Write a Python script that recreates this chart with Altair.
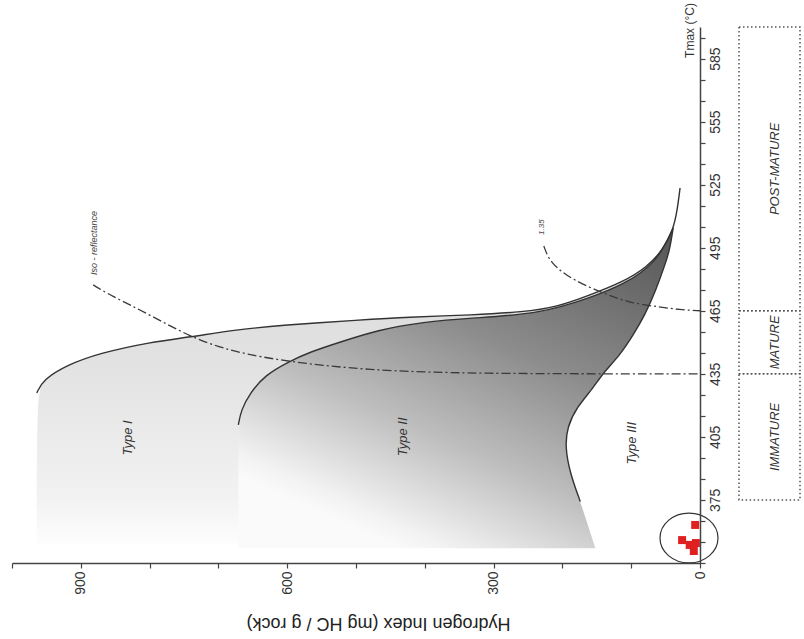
import altair as alt
import pandas as pd

# ---- data: Hydrogen Index (mg HC/g rock) and Tmax (°C) ----
type1_hi = [964, 964, 955, 920, 872, 799, 741, 679, 606, 494, 426, 330, 257, 208, 160, 112, 77, 54, 39, 33, 29]
type1_t = [354, 425.9, 432.1, 439.2, 444.9, 450.1, 452.5, 455.8, 458.2, 460.6, 462.0, 463.0, 464.4, 466.8,
           472.5, 478.7, 485.8, 493.9, 503.4, 512.9, 523.4]

type2_hi = [671, 671, 667, 654, 632, 599, 567, 523, 469, 403, 330, 233, 160, 112, 63, 39]
type2_t = [352, 410.7, 417.8, 425.9, 434.4, 440.6, 445.4, 450.1, 455.8, 459.7, 461.6, 463.5, 471.1, 477.3,
           487.7, 504.4]

type3_hi = [145, 174, 189, 196, 193, 179, 155, 141, 116, 97, 80, 64, 51, 44, 39]
type3_t = [345, 374.2, 387.8, 400.2, 409.7, 419.2, 428.3, 435.4, 444.0, 453.5, 463.0, 474.9, 486.8, 493.9, 504.4]

iso1_hi = [882, 858, 799, 741, 679, 596, 484, 339, 0]
iso1_t = [477.3, 472.5, 463.0, 452.5, 445.4, 440.6, 436.8, 435, 435]
iso2_hi = [227, 218, 185, 141, 102, 58, 30, 0]
iso2_t = [495.8, 487.7, 479.6, 473.4, 468.7, 466.8, 465.5, 465]

sample_hi = [7, 26, 15, 6, 9]
sample_t = [363.1, 355.9, 353.6, 354.5, 350.7]
circle_hi = [16]
circle_t = [356.9]

zone_names = ["IMMATURE", "MATURE", "POST-MATURE"]
zone_lo = [375, 435, 465]
zone_hi = [435, 465, 600]

type_names = ["Type I", "Type II", "Type III"]
type_label_hi = [831, 432, 99]
type_label_t = [404.5, 405, 402]

iso_names = ["Iso - reflectance", "1.35"]
iso_label_hi = [881, 230]
iso_label_t = [497.2, 504.8]

hi_ticks = [0, 100, 200, 300, 400, 500, 600, 700, 800, 900, 1000]
t_ticks = [345, 355, 365, 375, 385, 395, 405, 415, 425, 435, 445, 455, 465, 475, 485, 495, 505,
           515, 525, 535, 545, 555, 565, 575, 585, 595]

# ---- tables ----
def table(h, t):
    return pd.DataFrame({"hi": h, "t": t, "i": list(range(len(h)))})

t1 = table(type1_hi, type1_t)
t2 = table(type2_hi, type2_t)
t3 = table(type3_hi, type3_t)
iso = pd.concat([table(iso1_hi, iso1_t).assign(k="a"), table(iso2_hi, iso2_t).assign(k="b")])
samples = pd.DataFrame({"hi": sample_hi, "t": sample_t})
circ = pd.DataFrame({"hi": circle_hi, "t": circle_t})
zones = pd.DataFrame({"name": zone_names, "lo": zone_lo, "t2": zone_hi,
                      "mid": [(a + b) / 2 for a, b in zip(zone_lo, zone_hi)]})
tlabels = pd.DataFrame({"name": type_names, "hi": type_label_hi, "t": type_label_t})
ilabels = pd.DataFrame({"name": iso_names, "hi": iso_label_hi, "t": iso_label_t, "size": [9, 8]})

FONT = "Liberation Sans Narrow, Arial Narrow, Liberation Sans, sans-serif"

xs = alt.Scale(domain=[0, 1000], reverse=True, nice=False, zero=False)
ys = alt.Scale(domain=[345, 600], nice=False, zero=False)

TITLE_X = "Hydrogen Index (mg HC / g rock)"
TITLE_Y = "Tmax (°C)"

x_axis = alt.Axis(values=hi_ticks, labelExpr="datum.value % 300 === 0 ? datum.label : ''",
                  labelAngle=270, labelAlign="right", labelBaseline="middle", labelPadding=3,
                  labelFont=FONT, labelFontSize=14, labelColor="#333",
                  domainColor="#444", domainWidth=1.5, tickColor="#444", tickSize=5, tickWidth=1.2,
                  grid=False, titleAngle=180, titleX=366,
                  titleY=59, titleAlign="center", titleBaseline="middle", titleFont="Liberation Sans",
                  titleFontSize=18, titleFontWeight="normal", titleColor="#222", zindex=1)
y_axis = alt.Axis(orient="right", values=t_ticks,
                  labelExpr="datum.value >= 375 && (datum.value - 375) % 30 === 0 ? datum.label : ''",
                  labelAngle=270, labelAlign="center", labelBaseline="top", labelPadding=3,
                  labelFont=FONT, labelFontSize=14, labelColor="#333",
                  domainColor="#444", domainWidth=1.5, tickColor="#444", tickSize=5, tickWidth=1.2,
                  grid=False, titleAngle=270, titleX=-11, titleY=3,
                  titleAlign="center", titleBaseline="middle", titleFont=FONT, titleFontSize=12,
                  titleFontWeight="normal", titleColor="#333", zindex=1)

X = alt.X("hi:Q", scale=xs, axis=x_axis, title=TITLE_X)
Y = alt.Y("t:Q", scale=ys, axis=y_axis, title=TITLE_Y)

grad1 = alt.Gradient(gradient="linear", x1=0, y1=0, x2=0, y2=1,
                     stops=[alt.GradientStop(color="#d8d8d8", offset=0),
                            alt.GradientStop(color="#e3e3e3", offset=0.45),
                            alt.GradientStop(color="#f2f2f2", offset=0.85),
                            alt.GradientStop(color="#fdfdfd", offset=1)])
grad2 = alt.Gradient(gradient="linear", x1=1, y1=0, x2=0.35, y2=1,
                     stops=[alt.GradientStop(color="#505050", offset=0),
                            alt.GradientStop(color="#8c8c8c", offset=0.45),
                            alt.GradientStop(color="#bebebe", offset=0.72),
                            alt.GradientStop(color="#f2f2f2", offset=0.95),
                            alt.GradientStop(color="#fafafa", offset=1)])

CURVE = "basis"
area1 = alt.Chart(t1).transform_filter(alt.datum.t <= 504).mark_area(
    orient="horizontal", color=grad1, interpolate=CURVE).encode(y=Y, x=X, x2=alt.datum(0))
area2 = alt.Chart(t2).mark_area(orient="horizontal", color=grad2, interpolate=CURVE).encode(
    y=Y, x=X, x2=alt.datum(0))
area3 = alt.Chart(t3).mark_area(orient="horizontal", color="white", interpolate=CURVE).encode(
    y=Y, x=X, x2=alt.datum(0))

line_style = dict(color="#333", strokeWidth=1.4, interpolate=CURVE)
line1 = alt.Chart(t1).transform_filter(alt.datum.t >= 425).mark_line(**line_style).encode(
    x=X, y=Y, order=alt.Order("i:Q"))
line2 = alt.Chart(t2).transform_filter(alt.datum.t >= 410).mark_line(**line_style).encode(
    x=X, y=Y, order=alt.Order("i:Q"))
line3 = alt.Chart(t3).transform_filter(alt.datum.t >= 374).mark_line(**line_style).encode(
    x=X, y=Y, order=alt.Order("i:Q"))

iso_lines = alt.Chart(iso).mark_line(color="#3a3a3a", strokeWidth=1.3, strokeDash=[9, 3, 2, 3],
                                     interpolate=CURVE).encode(
    x=X, y=Y, detail="k:N", order=alt.Order("i:Q"))

ellipse = alt.Chart(circ).mark_point(
    shape="M-1,0A1,0.86,0,1,1,1,0A1,0.86,0,1,1,-1,0Z", size=3364, filled=False,
    stroke="#333", strokeWidth=1.2, opacity=1).encode(x=X, y=Y)
pts = alt.Chart(samples).mark_square(size=64, color="#e02020", opacity=1).encode(x=X, y=Y)

type_text = alt.Chart(tlabels).mark_text(angle=270, fontStyle="italic", fontSize=13, font=FONT,
                                         color="#333", align="center", baseline="middle").encode(
    x=X, y=Y, text="name:N")
iso_text = alt.Chart(ilabels).mark_text(angle=270, fontStyle="italic", font=FONT, color="#444",
                                        align="center", baseline="middle").encode(
    x=X, y=Y, text="name:N", size=alt.Size("size:Q", scale=None, legend=None))

boxes = alt.Chart(zones).mark_rect(fill="transparent", stroke="#555", strokeWidth=1.5,
                                   strokeDash=[1.5, 2.5]).encode(
    x=alt.value(727), x2=alt.value(788),
    y=alt.Y("lo:Q", scale=ys, axis=y_axis, title=TITLE_Y), y2="t2:Q")
zone_text = alt.Chart(zones).mark_text(angle=270, fontStyle="italic", fontSize=13,
                                       font=FONT, color="#333", align="center",
                                       baseline="middle").encode(
    x=alt.value(763), y=alt.Y("mid:Q", scale=ys, axis=y_axis, title=TITLE_Y), text="name:N")

chart = alt.layer(area1, area2, area3, line1, line2, line3, iso_lines, ellipse, pts,
                  type_text, iso_text, boxes, zone_text).properties(
    width=688, height=536,
    autosize=alt.AutoSizeParams(type="none"),
    padding={"left": 12, "top": 27, "right": 104, "bottom": 76},
    background="white",
).configure_view(strokeWidth=0)

chart.save("out.html", embed_options={"renderer": "svg", "actions": False})
